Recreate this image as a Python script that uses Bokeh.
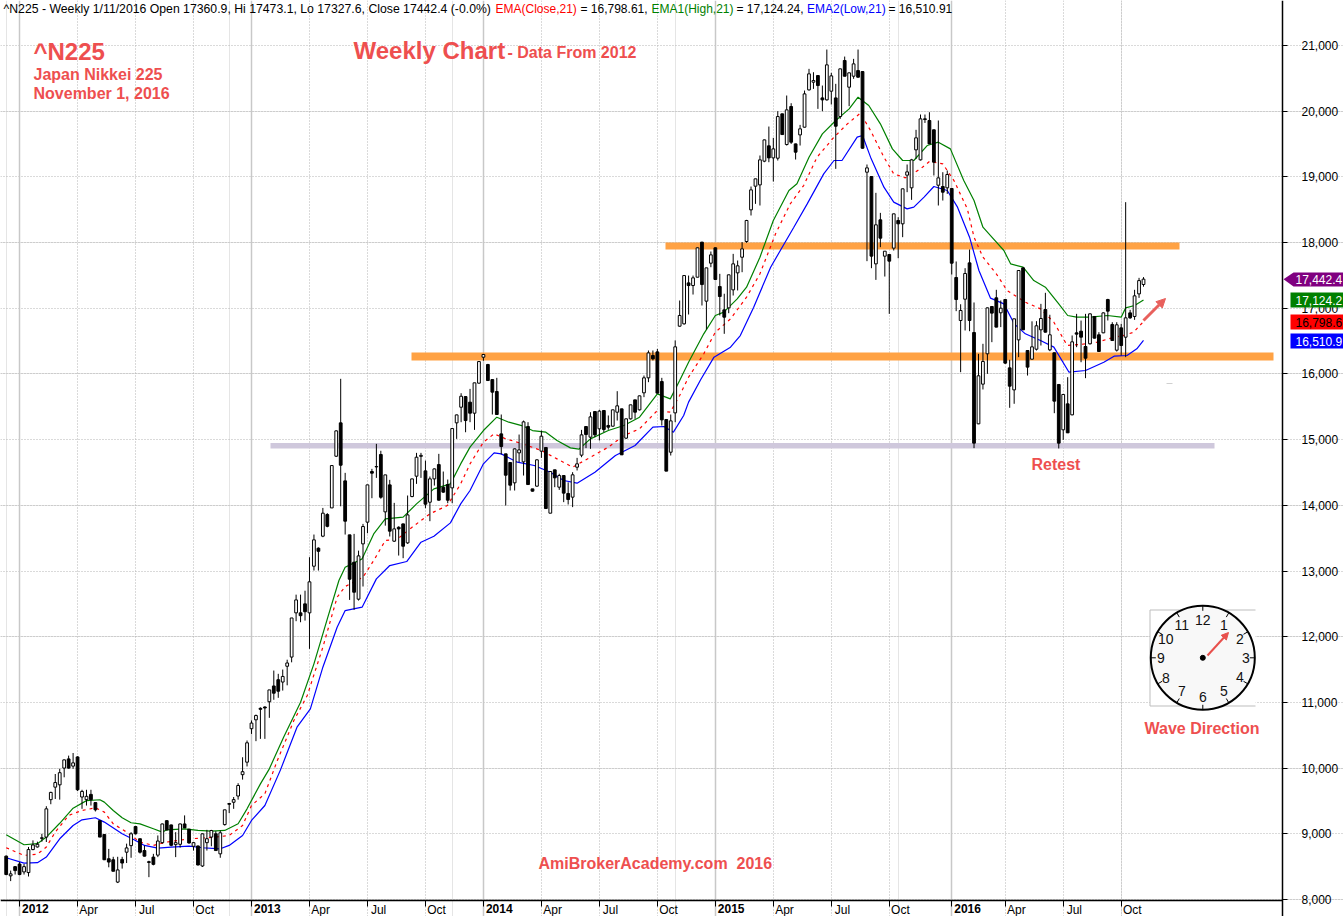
from bokeh.plotting import figure
from bokeh.models import (Range1d, FixedTicker, LinearAxis, Grid, Label, Arrow, NormalHead,
                          PolyAnnotation, NumeralTickFormatter)
from bokeh.core.properties import value
from bokeh.embed import file_html
from bokeh.resources import INLINE
import math

opens = [8660,8360,8500,8540,8420,8410,8760,8800,8930,8950,
9520,9710,9745,10000,10140,10030,10170,9560,9520,9600,
9475,9200,8990,8620,8605,8265,8610,8720,8820,9110,
8925,8745,8575,8645,8675,8865,9200,9135,8835,8840,
9150,9070,8810,8815,8510,8865,8950,9000,8695,9140,
9460,9480,9575,9900,10090,
10600,10735,10910,10930,11010,11250,11345,11310,11550,11690,
12363,12363,12500,12363,13073,13347,13530,13860,13960,14747,
15255,14372,13550,13134,12571,13413,13743,14514,14585,14773,
13900,14311,13454,13666,13717,13428,14133,14443,14745,14524,
14047,14402,14620,14275,14316,14265,
15255,15493,15655,15570,15402,15859,16254,16143,15914,
15732,15087,14783,14651,14342,14798,14661,15199,14250,14291,
14824,14880,13880,14540,14276,14453,14180,14124,14580,14763,
15199,15037,15427,15164,15443,15215,15204,15417,15468,15022,
15316,15605,15453,15712,15940,16280,16335,15884,15306,14808,
15407,16726,16762,17385,17345,17472,18005,17107,17685,17919,
17330,16975,17005,17279,17538,17776,18015,18497,18857,18877,
19238,19471,19288,19283,19958,19491,20070,19501,19638,19755,
20323,20440,20541,20201,20171,20303,20201,19917,20770,20364,
20531,20617,20602,19070,19004,17675,18345,17792,17817,17914,
18335,18284,19025,18832,19410,19258,19882,19857,19715,18872,
18852,18832,18822,17467,16813,17137,17690,16630,15240,15844,
16306,17026,17158,16930,17132,16092,15757,16518,17614,16356,
16224,16376,16671,16980,16366,16321,15839,15149,15544,15377,
16625,16650,16417,16458,16874,16595,16625,17132,16752,16361,
16701,16559,16929,16874,17218,17360.9]

closes = [8380,8390,8440,8380,8500,8760,8830,8840,8940,9380,
9630,9780,9930,10125,10000,10080,9670,9645,9570,9520,
9365,8950,8605,8570,8430,8450,8555,8785,9000,9000,
8720,8660,8565,8535,8890,9150,9060,8825,8865,9150,
9090,8860,8865,8525,9000,8925,9050,8745,9015,9365,
9450,9520,9735,9945,10385,
10685,10800,10895,10915,11190,11140,11170,11395,11600,12285,
12560,12320,12380,12835,13474,13300,13880,13680,14605,15133,
14610,13758,12875,12677,13230,13677,14311,14489,14590,14123,
14463,13606,13641,13640,13377,13854,14402,14732,14760,14017,
14402,14554,14078,14200,14078,15168,
15376,15660,15290,15402,15864,16188,16295,15899,15722,
15382,14895,14458,14306,14859,14844,15270,14316,14215,14692,
15052,13951,14514,14418,14453,14185,14088,14464,14631,15072,
15077,15346,15072,15433,15153,15189,15453,15514,14768,15316,
15529,15417,15666,15940,16320,16229,15707,15300,14520,15285,
16412,16889,17497,17345,17462,17919,17360,17614,17812,17437,
17178,16863,17508,17675,17645,17903,18335,18801,18969,19258,
19562,19288,19425,19917,19643,20019,19527,19375,19730,20262,
20567,20465,20389,20171,20704,20536,19770,20643,20531,20582,
20719,20516,19435,19136,17792,18269,18066,17868,17716,18436,
18284,18817,19075,19258,19593,19882,19872,19501,19223,18984,
18766,19035,17685,17132,16965,17528,16813,14946,15971,16189,
17005,16925,16712,17000,16164,15813,16838,17574,16671,16103,
16412,16732,16843,16635,16595,15585,14946,15687,15103,16488,
16605,16559,16239,16914,16544,16341,16929,16955,16508,16747,
16432,16853,16853,17188,17420,17442.4]

highs = [8670,8440,8510,8570,8540,8800,8900,8880,9000,9420,
9640,9910,9990,10130,10190,10230,10180,9670,9670,9670,
9480,9210,8995,8770,8650,8650,8650,8850,9025,9120,
8925,8820,8590,8695,8975,9155,9205,9140,9025,9155,
9280,9075,8875,8820,9005,9060,9060,9040,9050,9365,
9470,9560,9770,10165,10420,
10725,10815,10925,10940,11190,11485,11435,11500,11650,12285,
12640,12640,12700,13210,13555,13360,13960,13880,14605,15140,
15925,14494,13550,13565,13310,13717,14311,14555,14935,14830,
14463,14387,14037,13680,13720,14149,14402,14798,14798,14680,
14438,14560,14783,14514,14392,15168,
15380,15706,15660,15772,15864,16190,16305,16153,15914,
15940,15382,14783,14651,14865,15077,15290,15265,14250,14700,
15138,14880,14514,14540,14480,14453,14350,14504,14722,15148,
15199,15417,15427,15453,15443,15367,15455,15737,15470,15320,
15530,15605,15670,15975,16356,16356,16380,15940,15306,15382,
16510,17117,17497,17497,17497,17925,18010,17614,17863,17925,
17523,17220,17510,17827,17726,18005,18345,18852,18970,19324,
19565,19765,19593,19998,19960,20237,20120,19505,19790,20313,
20643,20592,20545,20389,20937,20582,20415,20645,20830,20590,
20795,20937,20610,19187,19004,18756,18451,17868,17820,18440,
18385,18820,19187,19273,19715,19948,19948,19983,19720,19857,
19070,19096,18825,17711,17060,17609,17893,17087,16305,16458,
17010,17030,17280,17117,17135,16215,16840,17575,17620,16360,
16800,16803,17066,17234,16900,16325,15845,15690,15950,16585,
16914,16812,16914,16920,16880,16635,16935,17143,16787,16787,
16762,18614,16975,17280,17462,17473.1]

lows = [8370,8280,8380,8370,8380,8350,8750,8790,8880,8875,
9450,9530,9520,9860,9990,9990,9650,9380,9430,9430,
9340,8950,8600,8490,8430,8250,8470,8555,8635,8990,
8700,8655,8340,8520,8645,8850,9050,8810,8645,8790,
9090,8850,8745,8520,8495,8745,8810,8745,8635,9125,
9315,9380,9520,9825,10025,
10520,10410,10445,10445,10765,11040,11070,11180,11260,11610,
12236,12220,12245,11815,13007,13007,13515,13665,13960,14735,
13985,13555,12560,12409,12550,12764,13575,14108,14417,14100,
13690,13525,13443,13235,13195,13413,14123,14326,14417,13956,
13758,14300,14070,14190,14032,14032,
15011,15265,15112,15265,15148,15855,16200,15895,15382,
15382,14773,13997,14225,14225,14656,14453,14316,14210,14285,
14722,13951,13880,14276,14235,14048,14012,13972,14530,14732,
14870,14860,15037,14986,15113,15150,15200,15290,14768,15010,
15305,15316,15443,15646,15874,16204,15707,15214,14520,14758,
15265,16720,16750,16904,17208,17470,17041,16676,17624,17430,
16889,16610,16924,17193,17270,17548,17995,18411,18588,18563,
19222,19222,18928,19248,19640,19476,19501,19263,19476,19750,
20313,20338,20034,19998,20160,20100,19121,19882,20530,20075,
20491,20510,19430,17716,17609,17431,17929,17482,16914,17878,
17761,18081,18766,18649,19273,19248,19820,19500,19020,18563,
18639,18740,17513,16955,16026,16661,16650,14870,15235,15763,
16001,16483,16710,16712,16150,15484,15545,16255,16670,15975,
16220,16356,16432,16630,16346,15402,14865,14996,15100,15370,
16407,16178,15935,16448,16540,16340,16620,16813,16505,16340,
16280,16255,16838,16823,17157,17327.6]

ema_high_x = [0,4,7,9,12,15,18,21,22,24,26,28,30,33,35,36,40,43,46,49,52,54,57,59,62.2,66,69,72,74.6,76,79.8,82.4,85,89,92,95.9,99.6,101.9,104,107,110,112.7,116,118,121,123.5,126.5,128.4,131,135,138.5,142,146,148.9,151,153,156.4,159,160.9,163.9,166,169,172,175.5,177.3,180,183,186,189,191,193.4,196,198.7,201,203.5,206.5,209,211.7,214.7,217,219,220.7,223.7,225.2,228,230.4,233,236,238,240,243,246.9,250,251,253,255]
ema_high = [8985,8833,8850,8950,9160,9390,9505,9518,9482,9355,9244,9168,9152,9076,9026,9061,9076,9051,9041,9051,9152,9380,9760,9989,10471,11003,11587,12272,12855,13058,13185,13565,13793,13819,14022,14250,14326,14630,14885,15138,15341,15265,15204,15138,15113,14986,14874,14854,15011,15138,15214,15341,15696,15620,15899,16178,16610,16889,16940,17142,17320,17776,18335,18791,18893,19298,19654,19857,20034,20212,20085,19806,19425,19248,19248,19476,19527,19425,18943,18639,18233,18106,17878,17675,17624,17421,17320,17066,16889,16863,16863,16889,16863,17005,17041,17124]

ema_close_x = [0,4,7,9,11,14,17,20,22,24,27,30,33,36,41,44,47,50,53,55,58,60.8,64.5,67.5,71,74.2,76,80,82.4,85,87.6,91,95,98.9,101.9,104,107,109.4,112,115.3,120,123.5,127,131,135,138.5,142,146,148.9,151,153,156.4,159,162.4,166,169,172.5,175.8,178.8,181.8,185.6,188.6,191.5,193.8,196.8,199,201.6,205,207,210,212.5,215.5,217,219,222,224.4,228.5,231.9,234.9,237.9,240.9,244.6,248.4,250.6,252.8,255]
ema_close = [8788,8671,8690,8798,9026,9280,9355,9396,9330,9152,9026,8874,8823,8874,8924,8935,8950,8975,9127,9431,9609,10116,10724,11105,11840,12601,12764,12906,13159,13464,13479,13667,13870,13996,14326,14631,14961,15087,15012,14946,14834,14707,14580,14732,14885,15062,15164,15443,15417,15671,15950,16305,16635,16838,17168,17523,18132,18588,18867,19298,19603,19805,19968,19705,19299,19045,18984,19121,19233,19197,18943,18512,18081,17777,17523,17270,17092,16990,16787,16432,16448,16483,16559,16585,16635,16798]

ema_low_x = [0,4,7,9,12,15,17,20,22,26,29,31,34,37,41,44,48,50,53,55,58,61.5,65.2,68.2,71,74.2,76,79.8,83,86,89.8,93,95.9,99.6,101.9,104,107,109.4,111,114.6,118.4,122,125,128,132,136.6,141,145,147.5,149.6,151.9,153,155.7,158.7,162.4,164.6,167.6,171.4,176.6,179.6,183.3,185.6,187.4,190.8,192,193.8,196.8,199,202,203.5,205.8,208,211,213.3,216,218.1,220.7,223.7,226,228.5,231.9,234.9,238.3,242,246.1,248.4,251.3,253.5,255]
ema_low = [8636,8554,8560,8646,8924,9127,9213,9244,9178,9000,8899,8823,8782,8798,8813,8788,8772,8823,8975,9203,9431,9973,10623,10902,11536,12145,12398,12449,12880,13083,13144,13438,13530,13733,14022,14225,14631,14798,14783,14656,14606,14504,14377,14337,14504,14758,14910,15189,15199,15113,15367,15570,15910,16255,16407,16584,17016,17624,18233,18588,19045,19248,19248,19603,19628,19299,18842,18614,18512,18538,18690,18852,18791,18538,18081,17574,17153,17066,16762,16610,16508,16407,16026,16052,16178,16270,16280,16382,16511]

year_ticks = [3, 55, 107, 159, 212]
year_names = ["2012", "2013", "2014", "2015", "2016"]
quarter_ticks = [16, 29, 42, 68, 81, 94, 120, 133, 146, 172, 185, 198, 224, 237, 250]
quarter_names = ["Apr", "Jul", "Oct"] * 5
price_ticks = list(range(8000, 21001, 1000))

tag_values = [17442.4, 17124.2, 16798.6, 16510.9]
tag_texts = ["17,442.4", "17,124.2", "16,798.6", "16,510.9"]

RED = "#ee4f4f"
ORANGE = "#ffa244"
FONT = "Liberation Sans"


def X(px):
    return (px - 5.7) / 4.46


def Y(py):
    return 8000 + (899 - py) / 0.0657


W, H = 1343, 916
p = figure(width=W, height=H, frame_width=W, frame_height=H,
           x_range=Range1d(X(0), X(W)), y_range=Range1d(Y(H), Y(0)),
           output_backend="svg", toolbar_location=None, x_axis_location=None, y_axis_location=None,
           min_border=0, margin=(0, 0, 0, 0), background_fill_color="white", border_fill_color="white")
p.outline_line_color = None

# axes, placed inside the frame so that the value tags can sit beside them
xa = LinearAxis(ticker=FixedTicker(ticks=[t + 2.5 for t in quarter_ticks], minor_ticks=year_ticks + quarter_ticks),
                major_label_overrides={t + 2.5: n for t, n in zip(quarter_ticks, quarter_names)},
                fixed_location=Y(900), bounds=(X(0), X(1282)))
xa.major_tick_out = 0
xa.major_tick_in = 0
xa.minor_tick_out = 6
xa.minor_tick_in = 0
xa.minor_tick_line_color = "black"
xa.axis_line_color = "black"
xa.axis_line_width = 1.5
xa.major_label_standoff = -4
xa.major_label_text_font = FONT
xa.major_label_text_font_size = "12px"
xa.major_label_text_color = "black"
p.add_layout(xa, "below")

ya = LinearAxis(ticker=FixedTicker(ticks=price_ticks), formatter=NumeralTickFormatter(format="0,0"),
                fixed_location=X(1282))
ya.major_tick_out = 5
ya.major_tick_in = 0
ya.minor_tick_out = 0
ya.axis_line_color = "black"
ya.axis_line_width = 1.5
ya.major_label_standoff = 14
ya.major_label_text_font = FONT
ya.major_label_text_font_size = "12px"
ya.major_label_text_color = "black"
p.add_layout(ya, "right")

# grids
p.add_layout(Grid(dimension=1, ticker=FixedTicker(ticks=price_ticks), grid_line_color="#b4b4b4",
                  grid_line_dash="1 2", grid_line_width=1, level="underlay", bounds=(X(0), X(1282))))
p.add_layout(Grid(dimension=0, ticker=FixedTicker(ticks=quarter_ticks), grid_line_color="#b4b4b4",
                  grid_line_dash="1 2", grid_line_width=1, level="underlay", bounds=(Y(900), Y(0))))
p.add_layout(Grid(dimension=0, ticker=FixedTicker(ticks=year_ticks), grid_line_color="#c8c8c8",
                  grid_line_width=1.5, level="underlay", bounds=(Y(900), Y(0))))

# horizontal bands
p.quad(left=[X(270)], right=[X(1214)], bottom=[Y(448)], top=[Y(442.5)], color="#cfc8dc", line_width=0)
p.quad(left=[X(411), X(665)], right=[X(1273), X(1179)], bottom=[Y(360), Y(249)], top=[Y(352), Y(242)],
       color=ORANGE, line_width=0)

# EMA lines
p.line(ema_high_x, ema_high, line_color="#008000", line_width=1.2)
p.line(ema_close_x, ema_close, line_color="#ff0000", line_width=1.2, line_dash="3 4")
p.line(ema_low_x, ema_low, line_color="#0000ff", line_width=1.2)

# candles
idx = list(range(len(opens)))
p.segment(idx, lows, idx, highs, line_color="black", line_width=1)
up = [i for i in idx if closes[i] >= opens[i]]
dn = [i for i in idx if closes[i] < opens[i]]
p.vbar(x=up, width=0.62, bottom=[opens[i] for i in up], top=[closes[i] for i in up],
       fill_color="white", line_color="black", line_width=1)
p.vbar(x=dn, width=0.62, bottom=[closes[i] for i in dn], top=[opens[i] for i in dn],
       fill_color="black", line_color="black", line_width=1)

# trend arrow and the faint stray mark below it
p.add_layout(Arrow(end=NormalHead(size=9, fill_color="#e8605c", line_color="#e8605c"),
                   x_start=X(1143), y_start=Y(320), x_end=X(1165), y_end=Y(298),
                   line_color="#e8605c", line_width=3))
p.segment([X(1166)], [Y(383)], [X(1172)], [Y(383)], line_color="#d0d0d0", line_width=1)

# clock
p.quad(left=[X(1149.5)], right=[X(1255)], bottom=[Y(705.5)], top=[Y(609.5)], color="white", line_width=0)
p.segment([X(1149.5), X(1149.5), X(1149.5)], [Y(609.5), Y(705.5), Y(609.5)],
          [X(1255), X(1255), X(1149.5)], [Y(609.5), Y(705.5), Y(705.5)], line_color="#bdbdbd", line_width=1)
cx, cy = X(1202.3), Y(657.3)
p.scatter([cx], [cy], marker="circle", size=104, fill_color="#f8f8f8", line_color="black", line_width=2)
hx0, hy0, hx1, hy1 = [], [], [], []
for h in range(12):
    a = math.radians(30 * h)
    hx0.append(X(1202.3 + 47 * math.sin(a)))
    hy0.append(Y(657.3 - 47 * math.cos(a)))
    hx1.append(X(1202.3 + 52 * math.sin(a)))
    hy1.append(Y(657.3 - 52 * math.cos(a)))
p.segment(hx0, hy0, hx1, hy1, line_color="black", line_width=1)
clock_numbers = ["12", "1", "2", "3", "4", "5", "6", "7", "8", "9", "10", "11"]
clock_dx = [0, 21, 37, 43, 37, 21, 0, -21, -37, -42, -37, -21]
clock_dy = [-38, -33, -19, 0, 19, 33, 39, 33, 20, 0, -19, -33]
p.text(x=[cx] * 12, y=[cy] * 12, text=clock_numbers, x_offset=clock_dx, y_offset=clock_dy,
       text_align="center", text_baseline="middle", text_font=value(FONT),
       text_font_size="14px", text_color="#111111")
p.scatter([cx], [cy], marker="circle", size=5, fill_color="black", line_color="black")
p.add_layout(Arrow(end=NormalHead(size=7, fill_color="#e8504c", line_color="#e8504c"),
                   x_start=X(1207), y_start=Y(655), x_end=X(1228), y_end=Y(632),
                   line_color="#e8504c", line_width=2))


def put(px, py, text, size, color=RED, style="bold", align="left", **kw):
    p.add_layout(Label(x=X(px), y=Y(py), text=text, text_font=FONT, text_font_size=f"{size}px",
                       text_font_style=style, text_color=color, text_align=align,
                       text_baseline="middle", **kw))


# year labels on the axis row
for t, n in zip(year_ticks, year_names):
    put(5.7 + 4.46 * t + 2.5, 908, n, 12, color="black")

# header
put(3, 8, "^N225 - Weekly 1/11/2016 Open 17360.9, Hi 17473.1, Lo 17327.6, Close 17442.4 (-0.0%)", 12.25,
    color="black", style="normal")
for px, txt, col in [(495, "EMA(Close,21)", "#ff0000"), (580, "= 16,798.61,", "black"),
                     (651, "EMA1(High,21)", "#008000"), (736, "= 17,124.24,", "black"),
                     (806.5, "EMA2(Low,21)", "#0000ff"), (888, "= 16,510.91", "black")]:
    put(px, 8, txt, 12, color=col, style="normal")

# titles and notes
put(33, 51, "^N225", 24)
put(33, 74, "Japan Nikkei 225", 16)
put(33, 93, "November 1, 2016", 16)
put(353, 50, "Weekly Chart", 24)
put(507, 52, "- Data From 2012", 16)
put(538, 863, "AmiBrokerAcademy.com\u00a0\u00a02016", 16)
put(1031, 464, "Retest", 16)
put(1144, 728, "Wave Direction", 16)

# last-value tags on the price scale
tag_colors = ["#800080", "#008000", "#ff0000", "#0000ff"]
tag_text_colors = ["white", "white", "black", "white"]
tag_boxes = [(272, 286), (292, 307), (314, 329), (333, 348)]
for n, (v, t, c, tc, (top, bot)) in enumerate(zip(tag_values, tag_texts, tag_colors, tag_text_colors, tag_boxes)):
    if n == 0:
        xs = [X(1283), X(1293), X(1343), X(1343), X(1293)]
        ys = [v, Y(top), Y(top), Y(bot), Y(bot)]
    else:
        xs = [X(1290), X(1343), X(1343), X(1290)]
        ys = [Y(top), Y(top), Y(bot), Y(bot)]
    p.add_layout(PolyAnnotation(xs=xs, ys=ys, fill_color=c, fill_alpha=1, line_color=c, line_width=0))
    p.add_layout(Label(x=X(1295), y=Y((top + bot) / 2), text=t, text_font=FONT, text_font_size="12px",
                       text_color=tc, text_align="left", text_baseline="middle"))

open("out.html", "w").write(file_html(p, INLINE))
